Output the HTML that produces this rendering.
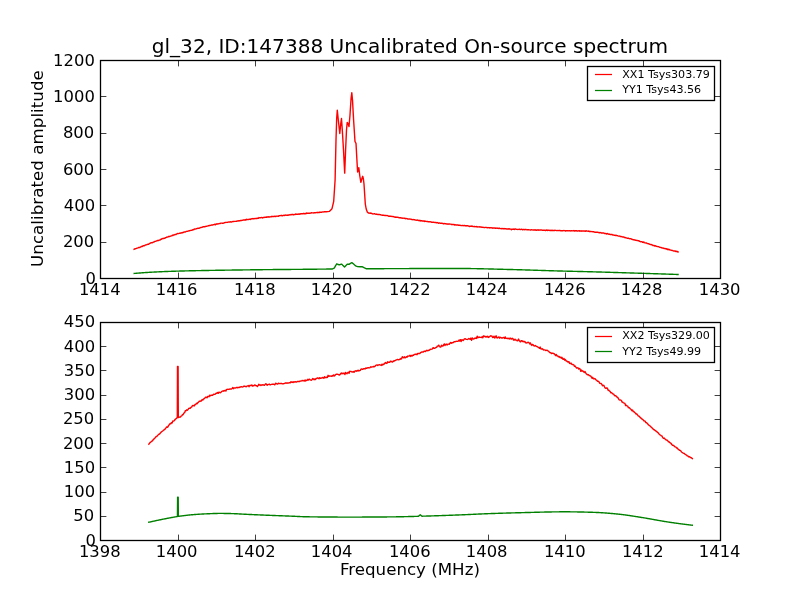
<!DOCTYPE html>
<html><head><meta charset="utf-8"><title>gl_32 spectrum</title>
<style>
html,body{margin:0;padding:0;background:#fff;}
body{width:800px;height:600px;overflow:hidden;}
svg{display:block;}
text{font-family:"DejaVu Sans","Liberation Sans",sans-serif;fill:#000;}
.tk text{font-size:16.4px;}
.lg{font-size:11.1px;}
.ttl{font-size:20.08px;}
.lab{font-size:16.67px;}
.ylab{font-size:16.67px;letter-spacing:0.045px;}
.ln{fill:none;stroke-width:1.4;stroke-linejoin:round;stroke-linecap:butt;}
.ax{fill:none;stroke:#000;stroke-width:1.3;}
.tick path{stroke:#000;stroke-width:0.75;fill:none;}
</style></head>
<body>
<svg width="800" height="600" viewBox="0 0 800 600">
<rect width="800" height="600" fill="#fff"/>
<text class="ttl" x="409.9" y="52.9" text-anchor="middle">gl_32, ID:147388 Uncalibrated On-source spectrum</text>
<g id="ax1">
<polyline class="ln" stroke="#f00" points="133.40,249.50 133.90,249.39 134.40,249.16 134.90,248.69 135.40,248.75 135.90,248.56 136.40,248.43 136.90,248.17 137.40,248.08 137.90,247.84 138.40,247.53 138.90,247.68 139.40,247.50 139.90,247.45 140.40,247.02 140.90,246.77 141.40,246.57 141.90,246.24 142.40,246.44 142.90,245.94 143.40,245.75 143.90,245.71 144.40,245.79 144.90,245.41 145.40,245.04 145.90,244.90 146.40,244.92 146.90,244.62 147.40,244.34 147.90,244.23 148.40,244.19 148.90,244.19 149.40,243.52 149.90,243.42 150.40,243.21 150.90,242.78 151.40,242.81 151.90,242.61 152.40,242.74 152.90,242.37 153.40,241.96 153.90,242.11 154.40,241.77 154.90,241.37 155.40,241.36 155.90,241.17 156.40,240.94 156.90,240.89 157.40,240.37 157.90,240.48 158.40,240.49 158.90,240.28 159.40,240.13 159.90,239.95 160.40,239.83 160.90,239.25 161.40,239.36 161.90,238.77 162.40,238.78 162.90,238.40 163.40,238.66 163.90,238.51 164.40,238.10 164.90,238.21 165.40,237.66 165.90,237.60 166.40,237.42 166.90,237.06 167.40,237.11 167.90,237.16 168.40,236.54 168.90,236.66 169.40,236.33 169.90,236.45 170.40,236.09 170.90,235.96 171.40,235.80 171.90,235.58 172.40,235.18 172.90,235.45 173.40,234.89 173.90,234.98 174.40,234.89 174.90,234.53 175.40,234.53 175.90,234.54 176.40,234.22 176.90,233.95 177.40,233.51 177.90,233.66 178.40,233.58 178.90,233.46 179.40,233.25 179.90,233.32 180.40,233.04 180.90,232.98 181.40,232.96 181.90,232.60 182.40,232.55 182.90,232.78 183.40,232.46 183.90,232.00 184.40,232.05 184.90,232.01 185.40,231.98 185.90,231.68 186.40,231.45 186.90,231.30 187.40,231.37 187.90,231.20 188.40,230.94 188.90,230.86 189.40,230.70 189.90,230.74 190.40,230.39 190.90,230.42 191.40,230.34 191.90,230.14 192.40,229.79 192.90,229.97 193.40,229.52 193.90,229.54 194.40,229.22 194.90,228.92 195.40,229.07 195.90,228.93 196.40,228.73 196.90,228.64 197.40,228.36 197.90,228.21 198.40,228.17 198.90,228.35 199.40,228.05 199.90,227.73 200.40,227.76 200.90,227.48 201.40,227.36 201.90,227.43 202.40,227.10 202.90,226.80 203.40,226.79 203.90,226.82 204.40,226.71 204.90,226.76 205.40,226.34 205.90,226.44 206.40,226.28 206.90,226.08 207.40,226.11 207.90,225.95 208.40,225.64 208.90,225.82 209.40,225.36 209.90,225.45 210.40,225.33 210.90,225.29 211.40,225.01 211.90,225.02 212.40,224.90 212.90,224.97 213.40,224.60 213.90,224.64 214.40,224.49 214.90,224.24 215.40,224.74 215.90,224.23 216.40,223.93 216.90,224.27 217.40,223.81 217.90,223.94 218.40,223.92 218.90,223.61 219.40,223.55 219.90,223.45 220.40,223.43 220.90,223.12 221.40,223.09 221.90,223.17 222.40,223.27 222.90,223.13 223.40,223.21 223.90,222.97 224.40,222.71 224.90,222.69 225.40,222.33 225.90,222.41 226.40,222.32 226.90,222.44 227.40,222.42 227.90,222.17 228.40,222.09 228.90,221.87 229.40,222.02 229.90,222.00 230.40,221.96 230.90,221.71 231.40,222.06 231.90,221.87 232.40,221.61 232.90,221.48 233.40,221.44 233.90,221.45 234.40,221.35 234.90,221.36 235.40,221.34 235.90,221.36 236.40,221.26 236.90,221.01 237.40,221.01 237.90,220.83 238.40,220.73 238.90,221.04 239.40,220.61 239.90,220.91 240.40,220.49 240.90,220.51 241.40,220.56 241.90,220.33 242.40,220.31 242.90,220.15 243.40,220.04 243.90,220.01 244.40,219.86 244.90,220.13 245.40,219.78 245.90,219.99 246.40,219.25 246.90,219.58 247.40,219.59 247.90,219.39 248.40,219.52 248.90,219.38 249.40,219.17 249.90,219.20 250.40,219.48 250.90,219.02 251.40,218.96 251.90,218.78 252.40,218.79 252.90,218.51 253.40,218.60 253.90,218.93 254.40,218.65 254.90,218.52 255.40,218.53 255.90,218.58 256.40,218.32 256.90,218.48 257.40,218.27 257.90,218.08 258.40,218.25 258.90,217.58 259.40,217.79 259.90,217.86 260.40,217.63 260.90,217.68 261.40,217.56 261.90,217.50 262.40,217.95 262.90,217.58 263.40,217.43 263.90,217.58 264.40,217.29 264.90,217.41 265.40,217.28 265.90,217.42 266.40,216.91 266.90,217.18 267.40,217.04 267.90,216.80 268.40,217.08 268.90,216.74 269.40,217.06 269.90,216.85 270.40,216.83 270.90,216.69 271.40,216.76 271.90,216.30 272.40,216.54 272.90,216.39 273.40,216.48 273.90,216.38 274.40,216.43 274.90,216.17 275.40,216.52 275.90,216.55 276.40,216.12 276.90,216.10 277.40,216.10 277.90,216.20 278.40,216.25 278.90,215.74 279.40,215.78 279.90,215.67 280.40,215.61 280.90,215.49 281.40,215.74 281.90,215.47 282.40,215.82 282.90,215.68 283.40,215.35 283.90,215.30 284.40,215.31 284.90,215.57 285.40,215.18 285.90,215.04 286.40,215.21 286.90,215.23 287.40,215.03 287.90,215.32 288.40,215.07 288.90,215.05 289.40,214.81 289.90,214.89 290.40,214.82 290.90,214.46 291.40,214.80 291.90,214.44 292.40,214.66 292.90,214.40 293.40,214.87 293.90,214.57 294.40,214.61 294.90,214.57 295.40,214.19 295.90,214.00 296.40,214.25 296.90,214.39 297.40,214.22 297.90,214.28 298.40,214.26 298.90,213.85 299.40,214.07 299.90,214.28 300.40,213.86 300.90,213.59 301.40,213.82 301.90,213.74 302.40,213.83 302.90,213.59 303.40,213.69 303.90,213.30 304.40,213.72 304.90,213.79 305.40,213.70 305.90,213.23 306.40,213.47 306.90,212.93 307.40,213.37 307.90,213.28 308.40,213.10 308.90,213.26 309.40,213.18 309.90,213.26 310.40,213.10 310.90,213.07 311.40,212.70 311.90,212.78 312.40,212.84 312.90,212.91 313.40,212.82 313.90,213.01 314.40,212.61 314.90,212.66 315.40,212.70 315.90,212.58 316.40,212.65 316.90,212.45 317.40,212.71 317.90,212.41 318.40,212.58 318.90,212.37 319.40,212.56 319.90,212.09 320.40,212.33 320.90,212.15 321.40,212.21 321.90,212.32 322.40,211.93 322.90,211.86 323.40,211.87 323.90,212.02 324.40,211.66 324.90,211.92 325.40,211.67 325.90,211.66 326.25,211.80 329.30,211.40 332.00,208.70 333.70,201.30 335.10,180.00 336.00,140.00 336.70,118.00 337.30,110.30 338.30,120.00 339.80,133.50 340.70,124.00 341.50,118.50 342.30,130.00 343.50,150.00 344.70,173.10 345.60,150.00 346.50,130.00 347.20,122.50 348.00,123.50 349.00,126.50 350.00,115.00 351.10,98.00 351.80,92.80 352.50,100.00 353.60,120.00 355.00,141.50 356.00,143.30 356.80,158.00 357.60,172.00 358.20,170.00 358.80,167.70 359.80,176.00 360.90,182.40 361.80,179.00 362.70,176.30 363.40,179.00 364.00,184.00 365.30,204.00 366.20,209.00 367.30,211.90 368.40,213.00 368.90,212.98 369.40,213.07 369.90,213.21 370.40,213.25 370.90,212.96 371.40,213.37 371.90,213.52 372.40,213.75 372.90,213.96 373.40,213.83 373.90,213.81 374.40,213.73 374.90,213.96 375.40,214.14 375.90,214.28 376.40,214.04 376.90,214.28 377.40,214.44 377.90,214.67 378.40,214.50 378.90,214.45 379.40,214.50 379.90,214.63 380.40,214.66 380.90,214.95 381.40,215.06 381.90,215.08 382.40,215.23 382.90,215.05 383.40,215.25 383.90,215.21 384.40,215.35 384.90,215.60 385.40,215.49 385.90,215.28 386.40,215.60 386.90,215.60 387.40,215.56 387.90,215.74 388.40,216.08 388.90,216.26 389.40,216.01 389.90,216.31 390.40,216.41 390.90,216.13 391.40,216.38 391.90,216.45 392.40,216.56 392.90,216.37 393.40,216.63 393.90,216.92 394.40,217.03 394.90,217.19 395.40,216.94 395.90,217.35 396.40,217.24 396.90,217.02 397.40,217.41 397.90,217.32 398.40,217.53 398.90,217.51 399.40,217.78 399.90,217.72 400.40,217.71 400.90,217.98 401.40,217.95 401.90,217.92 402.40,218.25 402.90,218.08 403.40,218.12 403.90,218.21 404.40,218.14 404.90,218.36 405.40,218.79 405.90,218.45 406.40,218.66 406.90,218.57 407.40,218.72 407.90,219.11 408.40,219.09 408.90,218.94 409.40,219.11 409.90,219.05 410.40,219.13 410.90,219.19 411.40,219.26 411.90,219.52 412.40,219.63 412.90,219.68 413.40,219.65 413.90,219.54 414.40,219.81 414.90,219.75 415.40,220.09 415.90,220.11 416.40,220.20 416.90,220.11 417.40,219.96 417.90,220.44 418.40,220.55 418.90,220.21 419.40,220.52 419.90,220.74 420.40,220.47 420.90,220.96 421.40,220.71 421.90,220.67 422.40,221.10 422.90,221.01 423.40,220.93 423.90,221.23 424.40,220.87 424.90,221.50 425.40,221.17 425.90,221.40 426.40,221.36 426.90,221.55 427.40,221.68 427.90,221.49 428.40,221.79 428.90,221.70 429.40,221.70 429.90,221.83 430.40,221.78 430.90,221.87 431.40,222.20 431.90,222.10 432.40,222.35 432.90,222.31 433.40,222.15 433.90,222.08 434.40,222.33 434.90,222.53 435.40,222.55 435.90,222.49 436.40,222.83 436.90,222.47 437.40,222.61 437.90,222.87 438.40,223.24 438.90,223.04 439.40,222.88 439.90,223.18 440.40,223.26 440.90,223.35 441.40,223.21 441.90,223.21 442.40,223.41 442.90,223.51 443.40,223.74 443.90,223.88 444.40,223.51 444.90,223.60 445.40,223.73 445.90,223.76 446.40,223.93 446.90,223.98 447.40,224.01 447.90,224.23 448.40,224.06 448.90,223.98 449.40,223.96 449.90,224.10 450.40,224.15 450.90,224.08 451.40,224.52 451.90,224.51 452.40,224.47 452.90,224.45 453.40,224.40 453.90,224.56 454.40,225.02 454.90,224.47 455.40,224.87 455.90,225.01 456.40,224.97 456.90,224.96 457.40,225.17 457.90,224.94 458.40,225.23 458.90,225.41 459.40,225.09 459.90,225.17 460.40,225.36 460.90,225.53 461.40,225.62 461.90,225.57 462.40,225.41 462.90,225.38 463.40,225.62 463.90,225.69 464.40,225.50 464.90,225.71 465.40,225.79 465.90,225.94 466.40,225.67 466.90,225.94 467.40,225.72 467.90,225.87 468.40,225.96 468.90,226.24 469.40,226.55 469.90,226.13 470.40,226.21 470.90,226.33 471.40,226.01 471.90,226.38 472.40,226.12 472.90,226.59 473.40,226.61 473.90,226.51 474.40,226.36 474.90,226.78 475.40,226.61 475.90,226.63 476.40,226.75 476.90,226.45 477.40,226.82 477.90,226.95 478.40,226.89 478.90,226.91 479.40,226.79 479.90,227.07 480.40,227.05 480.90,227.07 481.40,227.02 481.90,227.28 482.40,227.38 482.90,227.30 483.40,227.41 483.90,227.52 484.40,227.60 484.90,227.44 485.40,227.41 485.90,227.42 486.40,227.52 486.90,227.64 487.40,227.73 487.90,227.56 488.40,227.69 488.90,227.55 489.40,227.92 489.90,227.71 490.40,227.86 490.90,227.73 491.40,227.83 491.90,227.81 492.40,228.20 492.90,228.03 493.40,227.99 493.90,227.90 494.40,227.99 494.90,228.20 495.40,228.40 495.90,227.96 496.40,228.07 496.90,228.22 497.40,228.18 497.90,228.06 498.40,228.34 498.90,228.49 499.40,228.17 499.90,228.47 500.40,228.61 500.90,228.65 501.40,228.47 501.90,228.91 502.40,228.67 502.90,228.50 503.40,228.80 503.90,228.51 504.40,228.84 504.90,228.55 505.40,228.88 505.90,228.71 506.40,228.99 506.90,228.96 507.40,228.94 507.90,228.91 508.40,229.09 508.90,228.69 509.40,229.05 509.90,229.07 510.40,229.12 510.90,229.18 511.40,229.64 511.90,229.12 512.40,229.25 512.90,229.18 513.40,229.41 513.90,228.90 514.40,229.48 514.90,229.14 515.40,228.93 515.90,229.13 516.40,229.28 516.90,229.36 517.40,229.35 517.90,229.50 518.40,229.39 518.90,229.41 519.40,229.11 519.90,229.53 520.40,229.63 520.90,229.43 521.40,229.23 521.90,229.33 522.40,229.80 522.90,229.48 523.40,229.49 523.90,229.49 524.40,229.73 524.90,229.56 525.40,229.54 525.90,229.46 526.40,229.69 526.90,229.87 527.40,229.71 527.90,229.89 528.40,229.80 528.90,229.81 529.40,229.83 529.90,229.83 530.40,229.99 530.90,229.93 531.40,229.79 531.90,229.91 532.40,229.89 532.90,229.99 533.40,229.96 533.90,230.01 534.40,229.75 534.90,230.04 535.40,230.19 535.90,229.81 536.40,230.27 536.90,230.09 537.40,230.03 537.90,229.80 538.40,230.25 538.90,229.96 539.40,230.04 539.90,230.21 540.40,229.99 540.90,230.01 541.40,230.00 541.90,230.17 542.40,230.29 542.90,230.27 543.40,230.28 543.90,230.19 544.40,230.27 544.90,230.16 545.40,230.58 545.90,230.32 546.40,230.01 546.90,230.15 547.40,230.57 547.90,230.13 548.40,230.28 548.90,230.42 549.40,230.21 549.90,230.55 550.40,230.65 550.90,230.29 551.40,230.59 551.90,230.30 552.40,230.29 552.90,230.49 553.40,230.50 553.90,230.39 554.40,230.61 554.90,230.28 555.40,230.38 555.90,230.36 556.40,230.64 556.90,230.66 557.40,230.65 557.90,230.37 558.40,230.59 558.90,230.65 559.40,230.35 559.90,230.48 560.40,230.71 560.90,230.73 561.40,230.67 561.90,230.73 562.40,230.70 562.90,230.69 563.40,230.66 563.90,230.55 564.40,230.66 564.90,230.64 565.40,231.06 565.90,230.76 566.40,230.73 566.90,230.71 567.40,230.73 567.90,230.72 568.40,230.85 568.90,230.78 569.40,230.91 569.90,230.69 570.40,230.86 570.90,230.95 571.40,230.65 571.90,230.86 572.40,230.88 572.90,230.80 573.40,230.78 573.90,230.58 574.40,231.04 574.90,230.73 575.40,230.69 575.90,230.98 576.40,230.62 576.90,231.04 577.40,230.97 577.90,231.00 578.40,230.89 578.90,230.74 579.40,230.65 579.90,231.16 580.40,230.88 580.90,230.88 581.40,231.20 581.90,230.88 582.40,230.95 582.90,230.96 583.40,230.99 583.90,230.86 584.40,230.95 584.90,231.24 585.40,231.18 585.90,230.64 586.40,230.81 586.90,231.19 587.40,231.15 587.90,231.15 588.40,231.40 588.90,231.02 589.40,231.51 589.90,231.40 590.40,231.52 590.90,231.53 591.40,231.67 591.90,231.57 592.40,231.59 592.90,231.85 593.40,231.82 593.90,231.67 594.40,232.13 594.90,232.18 595.40,232.28 595.90,232.14 596.40,232.25 596.90,232.21 597.40,232.20 597.90,232.42 598.40,232.51 598.90,232.45 599.40,232.89 599.90,232.44 600.40,232.63 600.90,232.72 601.40,233.09 601.90,232.93 602.40,232.99 602.90,232.98 603.40,233.07 603.90,233.07 604.40,233.50 604.90,233.52 605.40,233.65 605.90,233.49 606.40,234.05 606.90,233.61 607.40,233.53 607.90,233.88 608.40,234.04 608.90,234.22 609.40,234.04 609.90,234.37 610.40,234.63 610.90,234.34 611.40,234.45 611.90,234.40 612.40,234.79 612.90,234.97 613.40,235.05 613.90,235.16 614.40,235.35 614.90,235.25 615.40,235.47 615.90,235.29 616.40,235.41 616.90,235.67 617.40,235.61 617.90,235.93 618.40,236.16 618.90,236.12 619.40,236.06 619.90,236.17 620.40,236.60 620.90,236.39 621.40,236.63 621.90,236.70 622.40,236.86 622.90,237.13 623.40,237.01 623.90,237.00 624.40,237.54 624.90,237.48 625.40,237.68 625.90,237.69 626.40,237.93 626.90,238.12 627.40,238.26 627.90,238.14 628.40,238.25 628.90,238.49 629.40,238.58 629.90,238.76 630.40,238.69 630.90,238.58 631.40,239.12 631.90,239.30 632.40,239.40 632.90,239.68 633.40,239.69 633.90,239.64 634.40,239.98 634.90,239.95 635.40,240.28 635.90,240.26 636.40,240.43 636.90,240.53 637.40,240.64 637.90,240.54 638.40,240.91 638.90,240.70 639.40,241.25 639.90,241.47 640.40,241.76 640.90,241.65 641.40,241.63 641.90,241.64 642.40,242.31 642.90,241.94 643.40,242.43 643.90,242.09 644.40,242.57 644.90,242.82 645.40,242.91 645.90,243.00 646.40,243.03 646.90,243.17 647.40,243.60 647.90,243.67 648.40,243.73 648.90,243.93 649.40,243.92 649.90,244.36 650.40,244.55 650.90,244.40 651.40,244.69 651.90,244.98 652.40,244.89 652.90,245.44 653.40,245.52 653.90,245.40 654.40,245.75 654.90,246.00 655.40,245.72 655.90,246.15 656.40,246.19 656.90,246.32 657.40,246.61 657.90,246.58 658.40,246.59 658.90,246.73 659.40,247.08 659.90,247.32 660.40,247.36 660.90,247.48 661.40,247.63 661.90,247.97 662.40,247.99 662.90,247.93 663.40,248.14 663.90,248.50 664.40,248.36 664.90,248.52 665.40,248.71 665.90,248.69 666.40,249.12 666.90,248.79 667.40,249.46 667.90,249.31 668.40,249.32 668.90,249.68 669.40,249.51 669.90,249.97 670.40,250.13 670.90,250.06 671.40,250.21 671.90,250.54 672.40,250.42 672.90,250.65 673.40,250.82 673.90,251.13 674.40,250.94 674.90,251.14 675.40,251.43 675.90,250.99 676.40,251.46 676.90,251.33 677.40,251.46 677.90,252.15 678.40,252.00 678.75,252.05"/>
<polyline class="ln" stroke="#008000" points="133.50,273.50 134.00,273.46 134.50,273.42 135.00,273.37 135.50,273.33 136.00,273.29 136.50,273.25 137.00,273.21 137.50,273.17 138.00,273.13 138.50,273.09 139.00,273.05 139.50,273.01 140.00,272.97 140.50,272.93 141.00,272.90 141.50,272.86 142.00,272.82 142.50,272.78 143.00,272.75 143.50,272.71 144.00,272.67 144.50,272.64 145.00,272.60 145.50,272.57 146.00,272.53 146.50,272.50 147.00,272.47 147.50,272.43 148.00,272.40 148.50,272.37 149.00,272.34 149.50,272.31 150.00,272.28 150.50,272.25 151.00,272.22 151.50,272.19 152.00,272.16 152.50,272.13 153.00,272.10 153.50,272.08 154.00,272.05 154.50,272.03 155.00,272.00 155.50,271.98 156.00,271.95 156.50,271.93 157.00,271.90 157.50,271.88 158.00,271.86 158.50,271.83 159.00,271.81 159.50,271.79 160.00,271.76 160.50,271.74 161.00,271.72 161.50,271.70 162.00,271.68 162.50,271.66 163.00,271.64 163.50,271.61 164.00,271.59 164.50,271.57 165.00,271.55 165.50,271.53 166.00,271.51 166.50,271.50 167.00,271.48 167.50,271.46 168.00,271.44 168.50,271.42 169.00,271.40 169.50,271.38 170.00,271.37 170.50,271.35 171.00,271.33 171.50,271.31 172.00,271.30 172.50,271.28 173.00,271.26 173.50,271.25 174.00,271.23 174.50,271.21 175.00,271.20 175.50,271.18 176.00,271.17 176.50,271.15 177.00,271.14 177.50,271.12 178.00,271.11 178.50,271.09 179.00,271.08 179.50,271.06 180.00,271.05 180.50,271.04 181.00,271.02 181.50,271.01 182.00,271.00 182.50,270.98 183.00,270.97 183.50,270.96 184.00,270.94 184.50,270.93 185.00,270.92 185.50,270.91 186.00,270.89 186.50,270.88 187.00,270.87 187.50,270.86 188.00,270.85 188.50,270.83 189.00,270.82 189.50,270.81 190.00,270.80 190.50,270.79 191.00,270.78 191.50,270.77 192.00,270.76 192.50,270.75 193.00,270.74 193.50,270.72 194.00,270.71 194.50,270.70 195.00,270.69 195.50,270.68 196.00,270.67 196.50,270.66 197.00,270.65 197.50,270.64 198.00,270.63 198.50,270.62 199.00,270.61 199.50,270.60 200.00,270.59 200.50,270.58 201.00,270.58 201.50,270.57 202.00,270.56 202.50,270.55 203.00,270.54 203.50,270.53 204.00,270.52 204.50,270.51 205.00,270.50 205.50,270.49 206.00,270.48 206.50,270.47 207.00,270.46 207.50,270.45 208.00,270.45 208.50,270.44 209.00,270.43 209.50,270.42 210.00,270.41 210.50,270.40 211.00,270.39 211.50,270.38 212.00,270.38 212.50,270.37 213.00,270.36 213.50,270.35 214.00,270.34 214.50,270.33 215.00,270.33 215.50,270.32 216.00,270.31 216.50,270.30 217.00,270.29 217.50,270.29 218.00,270.28 218.50,270.27 219.00,270.26 219.50,270.26 220.00,270.25 220.50,270.24 221.00,270.23 221.50,270.22 222.00,270.22 222.50,270.21 223.00,270.20 223.50,270.19 224.00,270.19 224.50,270.18 225.00,270.17 225.50,270.16 226.00,270.16 226.50,270.15 227.00,270.14 227.50,270.14 228.00,270.13 228.50,270.12 229.00,270.11 229.50,270.11 230.00,270.10 230.50,270.09 231.00,270.09 231.50,270.08 232.00,270.07 232.50,270.06 233.00,270.06 233.50,270.05 234.00,270.04 234.50,270.04 235.00,270.03 235.50,270.02 236.00,270.02 236.50,270.01 237.00,270.00 237.50,270.00 238.00,269.99 238.50,269.98 239.00,269.97 239.50,269.97 240.00,269.96 240.50,269.95 241.00,269.95 241.50,269.94 242.00,269.93 242.50,269.93 243.00,269.92 243.50,269.91 244.00,269.91 244.50,269.90 245.00,269.89 245.50,269.89 246.00,269.88 246.50,269.87 247.00,269.87 247.50,269.86 248.00,269.85 248.50,269.85 249.00,269.84 249.50,269.84 250.00,269.83 250.50,269.82 251.00,269.82 251.50,269.81 252.00,269.80 252.50,269.80 253.00,269.79 253.50,269.78 254.00,269.78 254.50,269.77 255.00,269.77 255.50,269.76 256.00,269.75 256.50,269.75 257.00,269.74 257.50,269.74 258.00,269.73 258.50,269.72 259.00,269.72 259.50,269.71 260.00,269.71 260.50,269.70 261.00,269.70 261.50,269.69 262.00,269.68 262.50,269.68 263.00,269.67 263.50,269.67 264.00,269.66 264.50,269.66 265.00,269.65 265.50,269.65 266.00,269.64 266.50,269.64 267.00,269.63 267.50,269.63 268.00,269.62 268.50,269.62 269.00,269.61 269.50,269.60 270.00,269.60 270.50,269.60 271.00,269.59 271.50,269.59 272.00,269.58 272.50,269.58 273.00,269.57 273.50,269.57 274.00,269.56 274.50,269.56 275.00,269.55 275.50,269.55 276.00,269.54 276.50,269.54 277.00,269.54 277.50,269.53 278.00,269.53 278.50,269.52 279.00,269.52 279.50,269.52 280.00,269.51 280.50,269.51 281.00,269.50 281.50,269.50 282.00,269.50 282.50,269.49 283.00,269.49 283.50,269.48 284.00,269.48 284.50,269.48 285.00,269.47 285.50,269.47 286.00,269.47 286.50,269.46 287.00,269.46 287.50,269.45 288.00,269.45 288.50,269.45 289.00,269.44 289.50,269.44 290.00,269.43 290.50,269.43 291.00,269.43 291.50,269.42 292.00,269.42 292.50,269.41 293.00,269.41 293.50,269.41 294.00,269.40 294.50,269.40 295.00,269.39 295.50,269.39 296.00,269.39 296.50,269.38 297.00,269.38 297.50,269.37 298.00,269.37 298.50,269.36 299.00,269.36 299.50,269.35 300.00,269.35 300.50,269.35 301.00,269.34 301.50,269.34 302.00,269.33 302.50,269.33 303.00,269.32 303.50,269.32 304.00,269.31 304.50,269.31 305.00,269.30 305.50,269.30 306.00,269.29 306.50,269.29 307.00,269.28 307.50,269.28 308.00,269.27 308.50,269.27 309.00,269.26 309.50,269.26 310.00,269.25 310.50,269.25 311.00,269.24 311.50,269.24 312.00,269.23 312.50,269.23 313.00,269.22 313.50,269.22 314.00,269.21 314.50,269.20 315.00,269.20 315.50,269.19 316.00,269.19 316.50,269.18 317.00,269.18 317.50,269.17 318.00,269.17 318.50,269.16 319.00,269.16 319.50,269.15 320.00,269.14 320.50,269.14 321.00,269.13 321.50,269.13 322.00,269.12 322.50,269.12 323.00,269.11 323.50,269.11 324.00,269.10 324.50,269.09 325.00,269.09 325.50,269.08 326.00,269.08 326.50,269.07 327.00,269.07 327.50,269.06 328.00,269.05 328.50,269.05 329.00,269.04 329.50,269.04 330.00,269.03 330.50,269.02 331.00,269.02 331.50,269.01 332.00,269.01 332.50,269.00 334.50,267.80 335.60,265.60 336.80,263.80 338.00,264.50 339.50,264.80 340.80,264.30 341.80,264.10 343.00,265.60 344.50,267.10 346.00,265.50 347.20,264.30 349.00,264.30 350.50,263.30 351.80,262.60 353.30,263.80 355.00,265.30 356.20,266.10 357.50,266.60 360.00,266.80 362.50,266.80 364.50,267.90 366.50,268.80 367.00,268.80 367.50,268.79 368.00,268.79 368.50,268.78 369.00,268.78 369.50,268.78 370.00,268.77 370.50,268.77 371.00,268.77 371.50,268.76 372.00,268.76 372.50,268.76 373.00,268.75 373.50,268.75 374.00,268.74 374.50,268.74 375.00,268.74 375.50,268.73 376.00,268.73 376.50,268.73 377.00,268.72 377.50,268.72 378.00,268.72 378.50,268.71 379.00,268.71 379.50,268.70 380.00,268.70 380.50,268.70 381.00,268.69 381.50,268.69 382.00,268.69 382.50,268.68 383.00,268.68 383.50,268.68 384.00,268.68 384.50,268.67 385.00,268.67 385.50,268.67 386.00,268.66 386.50,268.66 387.00,268.66 387.50,268.65 388.00,268.65 388.50,268.65 389.00,268.65 389.50,268.64 390.00,268.64 390.50,268.64 391.00,268.64 391.50,268.63 392.00,268.63 392.50,268.63 393.00,268.63 393.50,268.62 394.00,268.62 394.50,268.62 395.00,268.62 395.50,268.62 396.00,268.61 396.50,268.61 397.00,268.61 397.50,268.61 398.00,268.61 398.50,268.60 399.00,268.60 399.50,268.60 400.00,268.60 400.50,268.60 401.00,268.60 401.50,268.60 402.00,268.59 402.50,268.59 403.00,268.59 403.50,268.59 404.00,268.59 404.50,268.59 405.00,268.59 405.50,268.59 406.00,268.58 406.50,268.58 407.00,268.58 407.50,268.58 408.00,268.58 408.50,268.58 409.00,268.58 409.50,268.57 410.00,268.57 410.50,268.57 411.00,268.57 411.50,268.57 412.00,268.57 412.50,268.57 413.00,268.57 413.50,268.56 414.00,268.56 414.50,268.56 415.00,268.56 415.50,268.56 416.00,268.56 416.50,268.56 417.00,268.56 417.50,268.56 418.00,268.55 418.50,268.55 419.00,268.55 419.50,268.55 420.00,268.55 420.50,268.55 421.00,268.55 421.50,268.55 422.00,268.55 422.50,268.54 423.00,268.54 423.50,268.54 424.00,268.54 424.50,268.54 425.00,268.54 425.50,268.54 426.00,268.54 426.50,268.54 427.00,268.53 427.50,268.53 428.00,268.53 428.50,268.53 429.00,268.53 429.50,268.53 430.00,268.53 430.50,268.53 431.00,268.53 431.50,268.53 432.00,268.53 432.50,268.52 433.00,268.52 433.50,268.52 434.00,268.52 434.50,268.52 435.00,268.52 435.50,268.52 436.00,268.52 436.50,268.52 437.00,268.52 437.50,268.52 438.00,268.52 438.50,268.52 439.00,268.52 439.50,268.51 440.00,268.51 440.50,268.51 441.00,268.51 441.50,268.51 442.00,268.51 442.50,268.51 443.00,268.51 443.50,268.51 444.00,268.51 444.50,268.51 445.00,268.51 445.50,268.51 446.00,268.51 446.50,268.51 447.00,268.51 447.50,268.51 448.00,268.51 448.50,268.50 449.00,268.50 449.50,268.50 450.00,268.50 450.50,268.50 451.00,268.50 451.50,268.50 452.00,268.50 452.50,268.50 453.00,268.50 453.50,268.50 454.00,268.50 454.50,268.50 455.00,268.50 455.50,268.50 456.00,268.50 456.50,268.50 457.00,268.50 457.50,268.50 458.00,268.50 458.50,268.50 459.00,268.50 459.50,268.50 460.00,268.50 460.50,268.50 461.00,268.50 461.50,268.50 462.00,268.50 462.50,268.50 463.00,268.51 463.50,268.51 464.00,268.51 464.50,268.51 465.00,268.52 465.50,268.52 466.00,268.52 466.50,268.53 467.00,268.53 467.50,268.54 468.00,268.54 468.50,268.55 469.00,268.55 469.50,268.56 470.00,268.57 470.50,268.57 471.00,268.58 471.50,268.59 472.00,268.59 472.50,268.60 473.00,268.61 473.50,268.62 474.00,268.62 474.50,268.63 475.00,268.64 475.50,268.65 476.00,268.66 476.50,268.67 477.00,268.68 477.50,268.69 478.00,268.70 478.50,268.71 479.00,268.72 479.50,268.73 480.00,268.74 480.50,268.75 481.00,268.76 481.50,268.77 482.00,268.78 482.50,268.79 483.00,268.80 483.50,268.81 484.00,268.83 484.50,268.84 485.00,268.85 485.50,268.86 486.00,268.87 486.50,268.89 487.00,268.90 487.50,268.91 488.00,268.92 488.50,268.94 489.00,268.95 489.50,268.96 490.00,268.98 490.50,268.99 491.00,269.00 491.50,269.01 492.00,269.03 492.50,269.04 493.00,269.05 493.50,269.07 494.00,269.08 494.50,269.09 495.00,269.11 495.50,269.12 496.00,269.13 496.50,269.15 497.00,269.16 497.50,269.18 498.00,269.19 498.50,269.20 499.00,269.22 499.50,269.23 500.00,269.24 500.50,269.26 501.00,269.27 501.50,269.28 502.00,269.30 502.50,269.31 503.00,269.32 503.50,269.34 504.00,269.35 504.50,269.36 505.00,269.37 505.50,269.39 506.00,269.40 506.50,269.41 507.00,269.43 507.50,269.44 508.00,269.45 508.50,269.46 509.00,269.48 509.50,269.49 510.00,269.50 510.50,269.51 511.00,269.52 511.50,269.54 512.00,269.55 512.50,269.56 513.00,269.57 513.50,269.59 514.00,269.60 514.50,269.61 515.00,269.63 515.50,269.64 516.00,269.65 516.50,269.67 517.00,269.68 517.50,269.70 518.00,269.71 518.50,269.72 519.00,269.74 519.50,269.75 520.00,269.77 520.50,269.78 521.00,269.80 521.50,269.81 522.00,269.82 522.50,269.84 523.00,269.85 523.50,269.87 524.00,269.88 524.50,269.90 525.00,269.92 525.50,269.93 526.00,269.95 526.50,269.96 527.00,269.98 527.50,269.99 528.00,270.01 528.50,270.02 529.00,270.04 529.50,270.06 530.00,270.07 530.50,270.09 531.00,270.10 531.50,270.12 532.00,270.13 532.50,270.15 533.00,270.17 533.50,270.18 534.00,270.20 534.50,270.21 535.00,270.23 535.50,270.25 536.00,270.26 536.50,270.28 537.00,270.30 537.50,270.31 538.00,270.33 538.50,270.34 539.00,270.36 539.50,270.38 540.00,270.39 540.50,270.41 541.00,270.42 541.50,270.44 542.00,270.46 542.50,270.47 543.00,270.49 543.50,270.50 544.00,270.52 544.50,270.54 545.00,270.55 545.50,270.57 546.00,270.58 546.50,270.60 547.00,270.62 547.50,270.63 548.00,270.65 548.50,270.66 549.00,270.68 549.50,270.69 550.00,270.71 550.50,270.72 551.00,270.74 551.50,270.75 552.00,270.77 552.50,270.79 553.00,270.80 553.50,270.82 554.00,270.83 554.50,270.84 555.00,270.86 555.50,270.87 556.00,270.89 556.50,270.90 557.00,270.92 557.50,270.93 558.00,270.94 558.50,270.96 559.00,270.97 559.50,270.99 560.00,271.00 560.50,271.01 561.00,271.03 561.50,271.04 562.00,271.05 562.50,271.07 563.00,271.08 563.50,271.09 564.00,271.11 564.50,271.12 565.00,271.13 565.50,271.14 566.00,271.16 566.50,271.17 567.00,271.18 567.50,271.19 568.00,271.21 568.50,271.22 569.00,271.23 569.50,271.24 570.00,271.25 570.50,271.27 571.00,271.28 571.50,271.29 572.00,271.30 572.50,271.32 573.00,271.33 573.50,271.34 574.00,271.35 574.50,271.36 575.00,271.38 575.50,271.39 576.00,271.40 576.50,271.41 577.00,271.42 577.50,271.43 578.00,271.45 578.50,271.46 579.00,271.47 579.50,271.48 580.00,271.50 580.50,271.51 581.00,271.52 581.50,271.53 582.00,271.54 582.50,271.56 583.00,271.57 583.50,271.58 584.00,271.59 584.50,271.61 585.00,271.62 585.50,271.63 586.00,271.64 586.50,271.66 587.00,271.67 587.50,271.68 588.00,271.70 588.50,271.71 589.00,271.72 589.50,271.74 590.00,271.75 590.50,271.76 591.00,271.78 591.50,271.79 592.00,271.80 592.50,271.82 593.00,271.83 593.50,271.85 594.00,271.86 594.50,271.87 595.00,271.89 595.50,271.90 596.00,271.92 596.50,271.93 597.00,271.94 597.50,271.96 598.00,271.97 598.50,271.99 599.00,272.00 599.50,272.02 600.00,272.03 600.50,272.04 601.00,272.06 601.50,272.07 602.00,272.09 602.50,272.10 603.00,272.12 603.50,272.13 604.00,272.15 604.50,272.16 605.00,272.17 605.50,272.19 606.00,272.20 606.50,272.22 607.00,272.23 607.50,272.25 608.00,272.26 608.50,272.28 609.00,272.29 609.50,272.31 610.00,272.32 610.50,272.34 611.00,272.35 611.50,272.37 612.00,272.38 612.50,272.40 613.00,272.41 613.50,272.43 614.00,272.44 614.50,272.46 615.00,272.47 615.50,272.49 616.00,272.51 616.50,272.52 617.00,272.54 617.50,272.55 618.00,272.57 618.50,272.58 619.00,272.60 619.50,272.61 620.00,272.63 620.50,272.64 621.00,272.66 621.50,272.67 622.00,272.69 622.50,272.70 623.00,272.72 623.50,272.74 624.00,272.75 624.50,272.77 625.00,272.78 625.50,272.80 626.00,272.81 626.50,272.83 627.00,272.84 627.50,272.86 628.00,272.88 628.50,272.89 629.00,272.91 629.50,272.92 630.00,272.94 630.50,272.95 631.00,272.97 631.50,272.98 632.00,273.00 632.50,273.02 633.00,273.03 633.50,273.05 634.00,273.06 634.50,273.08 635.00,273.09 635.50,273.11 636.00,273.13 636.50,273.14 637.00,273.16 637.50,273.17 638.00,273.19 638.50,273.20 639.00,273.22 639.50,273.23 640.00,273.25 640.50,273.27 641.00,273.28 641.50,273.30 642.00,273.31 642.50,273.33 643.00,273.34 643.50,273.36 644.00,273.38 644.50,273.39 645.00,273.41 645.50,273.42 646.00,273.44 646.50,273.45 647.00,273.47 647.50,273.49 648.00,273.50 648.50,273.52 649.00,273.53 649.50,273.55 650.00,273.56 650.50,273.58 651.00,273.60 651.50,273.61 652.00,273.63 652.50,273.64 653.00,273.66 653.50,273.68 654.00,273.69 654.50,273.71 655.00,273.72 655.50,273.74 656.00,273.76 656.50,273.77 657.00,273.79 657.50,273.80 658.00,273.82 658.50,273.84 659.00,273.85 659.50,273.87 660.00,273.88 660.50,273.90 661.00,273.92 661.50,273.93 662.00,273.95 662.50,273.97 663.00,273.98 663.50,274.00 664.00,274.01 664.50,274.03 665.00,274.05 665.50,274.06 666.00,274.08 666.50,274.10 667.00,274.11 667.50,274.13 668.00,274.15 668.50,274.16 669.00,274.18 669.50,274.19 670.00,274.21 670.50,274.23 671.00,274.24 671.50,274.26 672.00,274.28 672.50,274.29 673.00,274.31 673.50,274.33 674.00,274.34 674.50,274.36 675.00,274.38 675.50,274.39 676.00,274.41 676.50,274.43 677.00,274.44 677.50,274.46 678.00,274.48 678.50,274.49 678.75,274.50"/>
<g class="tick"><path d="M100.5 278.5v-5.90 M100.5 60.5v5.90 M178.5 278.5v-5.90 M178.5 60.5v5.90 M255.5 278.5v-5.90 M255.5 60.5v5.90 M333.5 278.5v-5.90 M333.5 60.5v5.90 M410.5 278.5v-5.90 M410.5 60.5v5.90 M488.5 278.5v-5.90 M488.5 60.5v5.90 M565.5 278.5v-5.90 M565.5 60.5v5.90 M643.5 278.5v-5.90 M643.5 60.5v5.90 M720.5 278.5v-5.90 M720.5 60.5v5.90"/><path d="M100.5 278.5h5.90 M720.5 278.5h-5.90 M100.5 242.5h5.90 M720.5 242.5h-5.90 M100.5 205.5h5.90 M720.5 205.5h-5.90 M100.5 169.5h5.90 M720.5 169.5h-5.90 M100.5 133.5h5.90 M720.5 133.5h-5.90 M100.5 96.5h5.90 M720.5 96.5h-5.90 M100.5 60.5h5.90 M720.5 60.5h-5.90"/></g>
<rect class="ax" x="100.5" y="60.5" width="620.0" height="218.0"/>
<g class="tk"><text x="78.90" y="294.95">1414</text><text x="155.80" y="294.95">1416</text><text x="233.90" y="294.95">1418</text><text x="310.80" y="294.95">1420</text><text x="388.90" y="294.95">1422</text><text x="465.80" y="294.95">1424</text><text x="543.90" y="294.95">1426</text><text x="620.80" y="294.95">1428</text><text x="698.80" y="294.95">1430</text><text x="94.84" y="65.95" text-anchor="end">1200</text><text x="94.84" y="101.95" text-anchor="end">1000</text><text x="94.19" y="137.95" text-anchor="end">800</text><text x="94.19" y="174.95" text-anchor="end">600</text><text x="95.09" y="210.95" text-anchor="end">400</text><text x="94.19" y="246.95" text-anchor="end">200</text><text x="95.84" y="283.95" text-anchor="end">0</text></g>
<rect x="587.5" y="66.5" width="127.0" height="34.0" fill="#fff" stroke="#000" stroke-width="1.3"/><path d="M595 74.5H612" stroke="#f00" stroke-width="1.25"/><path d="M595 90.5H612" stroke="#008000" stroke-width="1.25"/><text class="lg" x="622.2" y="77.90">XX1 Tsys303.79</text><text class="lg" x="622.2" y="93.00">YY1 Tsys43.56</text>
<text class="ylab" transform="translate(43,168.55) rotate(-90)" text-anchor="middle">Uncalibrated amplitude</text>
</g>
<g id="ax2">
<polyline class="ln" stroke="#f00" points="148.30,444.60 149.00,444.04 149.70,443.07 150.40,442.34 151.10,441.77 151.80,441.14 152.50,440.83 153.20,439.67 153.90,439.15 154.60,438.29 155.30,437.73 156.00,436.65 156.70,436.66 157.40,435.54 158.10,435.04 158.80,434.30 159.50,434.00 160.20,433.21 160.90,432.41 161.60,431.82 162.30,431.23 163.00,430.73 163.70,430.03 164.40,429.64 165.10,429.13 165.80,428.20 166.50,426.99 167.20,427.32 167.90,426.83 168.60,425.42 169.30,424.78 170.00,423.63 170.70,423.90 171.40,422.70 172.10,422.99 172.80,420.96 173.50,421.16 174.20,420.72 174.90,419.74 175.60,418.97 176.30,418.69 177.00,417.79 177.30,417.70 177.30,417.70 177.50,366.50 178.10,366.50 178.30,417.60 179.00,417.21 179.70,417.06 180.40,417.06 181.10,416.18 181.80,415.76 182.50,414.73 183.20,414.52 183.90,412.94 184.60,412.90 185.30,410.70 186.00,410.71 186.70,409.83 187.40,410.20 188.10,409.40 188.80,408.33 189.50,408.10 190.20,408.32 190.90,407.35 191.60,407.12 192.30,405.90 193.00,405.44 193.70,405.74 194.40,405.91 195.10,404.38 195.80,404.34 196.50,403.30 197.20,403.67 197.90,402.57 198.60,402.14 199.30,401.14 200.00,401.25 200.70,401.02 201.40,401.03 202.10,399.60 202.80,399.99 203.50,399.05 204.20,398.65 204.90,397.98 205.60,397.29 206.30,397.11 207.00,397.86 207.70,396.42 208.40,396.40 209.10,396.70 209.80,395.12 210.50,395.85 211.20,395.18 211.90,395.19 212.60,395.19 213.30,394.52 214.00,394.25 214.70,394.37 215.40,394.08 216.10,393.29 216.80,393.26 217.50,392.55 218.20,393.38 218.90,392.12 219.60,392.44 220.30,392.83 221.00,392.20 221.70,391.50 222.40,391.05 223.10,390.82 223.80,391.18 224.50,390.68 225.20,390.28 225.90,391.10 226.60,389.45 227.30,389.39 228.00,389.25 228.70,389.34 229.40,389.24 230.10,388.86 230.80,389.16 231.50,388.96 232.20,388.50 232.90,387.50 233.60,388.74 234.30,387.90 235.00,387.91 235.70,388.00 236.40,387.42 237.10,387.48 237.80,387.71 238.50,387.41 239.20,387.57 239.90,386.95 240.60,387.08 241.30,386.61 242.00,386.82 242.70,386.94 243.40,386.60 244.10,385.99 244.80,386.40 245.50,386.44 246.20,386.76 246.90,386.17 247.60,385.92 248.30,385.52 249.00,386.78 249.70,385.46 250.40,385.32 251.10,385.66 251.80,384.89 252.50,386.06 253.20,385.62 253.90,385.69 254.60,385.01 255.30,385.16 256.00,385.69 256.70,385.65 257.40,386.43 258.10,385.64 258.80,384.32 259.50,385.11 260.20,384.87 260.90,385.45 261.60,384.89 262.30,385.10 263.00,384.70 263.70,385.06 264.40,385.38 265.10,384.45 265.80,383.81 266.50,384.20 267.20,385.27 267.90,384.66 268.60,384.40 269.30,384.08 270.00,384.91 270.70,384.55 271.40,384.34 272.10,384.11 272.80,384.24 273.50,384.13 274.20,384.47 274.90,384.72 275.60,383.29 276.30,383.45 277.00,383.98 277.70,383.99 278.40,383.23 279.10,383.57 279.80,383.59 280.50,383.50 281.20,383.42 281.90,383.51 282.60,383.85 283.30,383.71 284.00,383.56 284.70,383.34 285.40,382.83 286.10,382.85 286.80,383.27 287.50,382.94 288.20,383.15 288.90,382.83 289.60,382.65 290.30,382.73 291.00,381.78 291.70,382.29 292.40,382.02 293.10,382.55 293.80,381.80 294.50,382.10 295.20,381.71 295.90,382.01 296.60,382.02 297.30,381.52 298.00,381.55 298.70,381.49 299.40,381.65 300.10,381.06 300.80,381.12 301.50,380.81 302.20,380.48 302.90,380.87 303.60,380.87 304.30,380.22 305.00,381.16 305.70,380.03 306.40,380.58 307.10,380.31 307.80,379.28 308.50,379.91 309.20,379.12 309.90,379.66 310.60,379.89 311.30,380.29 312.00,379.71 312.70,378.58 313.40,378.98 314.10,379.69 314.80,378.99 315.50,379.58 316.20,378.36 316.90,378.32 317.60,377.85 318.30,378.16 319.00,378.77 319.70,377.68 320.40,378.35 321.10,378.07 321.80,378.09 322.50,377.51 323.20,377.51 323.90,378.34 324.60,376.70 325.30,377.48 326.00,377.69 326.70,377.10 327.40,377.51 328.10,375.30 328.80,376.37 329.50,375.86 330.20,376.07 330.90,376.08 331.60,376.21 332.30,375.48 333.00,376.13 333.70,374.89 334.40,375.90 335.10,375.22 335.80,374.40 336.50,374.26 337.20,374.11 337.90,374.34 338.60,374.70 339.30,375.11 340.00,374.73 340.70,373.62 341.40,373.04 342.10,373.81 342.80,373.15 343.50,373.58 344.20,373.20 344.90,374.54 345.60,372.43 346.30,373.21 347.00,373.77 347.70,372.57 348.40,372.25 349.10,373.23 349.80,371.32 350.50,371.35 351.20,371.42 351.90,372.01 352.60,372.02 353.30,371.44 354.00,372.36 354.70,371.08 355.40,371.01 356.10,370.71 356.80,371.26 357.50,370.52 358.20,370.17 358.90,370.97 359.60,370.62 360.30,370.32 361.00,369.08 361.70,369.00 362.40,369.22 363.10,369.03 363.80,368.78 364.50,368.70 365.20,368.94 365.90,367.98 366.60,368.40 367.30,367.91 368.00,367.69 368.70,367.61 369.40,367.92 370.10,367.52 370.80,366.83 371.50,367.19 372.20,366.91 372.90,366.87 373.60,366.36 374.30,366.78 375.00,366.30 375.70,365.38 376.40,365.13 377.10,364.88 377.80,365.56 378.50,364.84 379.20,364.81 379.90,364.76 380.60,365.19 381.30,365.46 382.00,364.15 382.70,364.97 383.40,364.07 384.10,364.20 384.80,363.27 385.50,362.60 386.20,363.24 386.90,363.44 387.60,361.84 388.30,362.37 389.00,362.30 389.70,362.29 390.40,361.25 391.10,361.31 391.80,361.84 392.50,362.07 393.20,361.02 393.90,361.25 394.60,360.65 395.30,360.57 396.00,359.96 396.70,359.84 397.40,359.46 398.10,359.60 398.80,359.89 399.50,359.24 400.20,359.27 400.90,358.42 401.60,358.90 402.30,356.76 403.00,357.43 403.70,357.77 404.40,356.83 405.10,357.83 405.80,357.45 406.50,356.68 407.20,356.99 407.90,355.98 408.60,356.08 409.30,356.14 410.00,355.31 410.70,356.45 411.40,355.38 412.10,356.02 412.80,355.21 413.50,355.23 414.20,354.39 414.90,354.48 415.60,354.19 416.30,354.30 417.00,354.66 417.70,353.43 418.40,353.40 419.10,353.44 419.80,353.46 420.50,352.72 421.20,352.34 421.90,351.99 422.60,352.06 423.30,351.94 424.00,351.22 424.70,351.18 425.40,351.50 426.10,350.85 426.80,350.33 427.50,350.77 428.20,350.54 428.90,350.26 429.60,350.05 430.30,349.26 431.00,349.34 431.70,349.17 432.40,348.84 433.10,347.61 433.80,348.30 434.50,348.26 435.20,348.11 435.90,347.46 436.60,347.40 437.30,346.20 438.00,346.14 438.70,345.13 439.40,346.36 440.10,347.13 440.80,346.98 441.50,345.22 442.20,345.95 442.90,346.06 443.60,345.00 444.30,343.89 445.00,345.49 445.70,344.31 446.40,344.07 447.10,344.99 447.80,344.11 448.50,344.09 449.20,344.29 449.90,343.14 450.60,342.48 451.30,343.24 452.00,342.62 452.70,342.83 453.40,342.45 454.10,341.63 454.80,341.88 455.50,341.51 456.20,341.38 456.90,341.31 457.60,341.35 458.30,341.10 459.00,340.11 459.70,340.99 460.40,339.69 461.10,341.53 461.80,339.73 462.50,339.95 463.20,340.57 463.90,339.57 464.60,338.83 465.30,338.60 466.00,339.41 466.70,339.35 467.40,339.46 468.10,339.03 468.80,338.50 469.50,338.92 470.20,339.35 470.90,338.01 471.60,340.33 472.30,338.02 473.00,338.85 473.70,339.11 474.40,338.47 475.10,338.05 475.80,338.19 476.50,338.45 477.20,336.15 477.90,337.80 478.60,337.25 479.30,337.02 480.00,337.40 480.70,337.37 481.40,337.48 482.10,336.82 482.80,337.73 483.50,335.87 484.20,336.44 484.90,336.24 485.60,336.93 486.30,336.54 487.00,337.07 487.70,336.30 488.40,337.44 489.10,337.12 489.80,336.42 490.50,335.77 491.20,336.08 491.90,335.91 492.60,337.51 493.30,337.29 494.00,336.21 494.70,338.03 495.40,336.87 496.10,335.83 496.80,337.75 497.50,337.95 498.20,337.30 498.90,336.88 499.60,338.16 500.30,337.28 501.00,337.65 501.70,338.01 502.40,338.00 503.10,337.66 503.80,337.40 504.50,338.47 505.20,336.88 505.90,338.36 506.60,338.39 507.30,338.59 508.00,338.17 508.70,338.57 509.40,338.96 510.10,338.04 510.80,338.75 511.50,339.06 512.20,338.28 512.90,338.60 513.60,340.14 514.30,339.99 515.00,339.16 515.70,340.13 516.40,340.11 517.10,340.82 517.80,340.84 518.50,339.05 519.20,340.39 519.90,341.49 520.60,341.81 521.30,340.76 522.00,340.61 522.70,341.62 523.40,341.32 524.10,341.87 524.80,341.44 525.50,342.70 526.20,342.81 526.90,342.96 527.60,342.34 528.30,342.25 529.00,342.71 529.70,343.91 530.40,342.93 531.10,344.52 531.80,345.39 532.50,344.37 533.20,344.89 533.90,345.80 534.60,346.05 535.30,345.52 536.00,346.06 536.70,346.51 537.40,346.61 538.10,347.36 538.80,347.53 539.50,348.35 540.20,347.05 540.90,348.88 541.60,348.98 542.30,348.78 543.00,349.37 543.70,349.96 544.40,349.91 545.10,349.92 545.80,350.51 546.50,350.30 547.20,350.29 547.90,350.83 548.60,351.20 549.30,352.01 550.00,352.64 550.70,352.68 551.40,353.63 552.10,353.16 552.80,353.21 553.50,353.50 554.20,353.75 554.90,354.40 555.60,355.61 556.30,354.51 557.00,355.89 557.70,355.96 558.40,356.76 559.10,356.47 559.80,357.44 560.50,357.20 561.20,358.14 561.90,357.23 562.60,358.84 563.30,359.35 564.00,358.58 564.70,360.19 565.40,359.61 566.10,361.06 566.80,360.97 567.50,361.72 568.20,361.98 568.90,361.63 569.60,363.39 570.30,363.66 571.00,363.01 571.70,364.22 572.40,364.62 573.10,364.53 573.80,364.81 574.50,366.39 575.20,366.05 575.90,367.14 576.60,368.08 577.30,367.88 578.00,367.70 578.70,369.06 579.40,368.42 580.10,369.11 580.80,371.38 581.50,370.10 582.20,371.10 582.90,370.91 583.60,371.80 584.30,372.40 585.00,371.54 585.70,372.91 586.40,373.97 587.10,374.51 587.80,374.72 588.50,374.58 589.20,375.64 589.90,375.70 590.60,376.03 591.30,376.84 592.00,378.32 592.70,377.36 593.40,378.70 594.10,378.83 594.80,378.55 595.50,379.29 596.20,380.12 596.90,380.49 597.60,381.33 598.30,381.30 599.00,381.82 599.70,383.23 600.40,383.33 601.10,383.52 601.80,384.44 602.50,385.78 603.20,385.31 603.90,385.50 604.60,387.09 605.30,388.10 606.00,388.39 606.70,387.90 607.40,388.20 608.10,390.19 608.80,390.21 609.50,391.11 610.20,391.44 610.90,392.83 611.60,392.80 612.30,393.27 613.00,394.07 613.70,394.15 614.40,395.31 615.10,395.81 615.80,395.62 616.50,396.60 617.20,397.16 617.90,397.63 618.60,398.97 619.30,399.86 620.00,400.14 620.70,400.04 621.40,400.52 622.10,402.09 622.80,402.26 623.50,402.93 624.20,403.07 624.90,403.39 625.60,405.56 626.30,405.11 627.00,405.86 627.70,406.10 628.40,407.68 629.10,407.59 629.80,408.26 630.50,408.94 631.20,409.53 631.90,410.65 632.60,410.11 633.30,411.59 634.00,411.76 634.70,412.46 635.40,413.00 636.10,413.98 636.80,414.01 637.50,414.89 638.20,415.88 638.90,416.12 639.60,416.77 640.30,417.68 641.00,418.20 641.70,418.67 642.40,419.42 643.10,419.73 643.80,420.92 644.50,420.89 645.20,421.34 645.90,422.61 646.60,422.67 647.30,423.40 648.00,424.25 648.70,425.16 649.40,425.41 650.10,426.04 650.80,426.66 651.50,427.52 652.20,427.87 652.90,428.71 653.60,429.66 654.30,429.79 655.00,430.36 655.70,430.80 656.40,431.45 657.10,431.91 657.80,432.55 658.50,433.30 659.20,434.16 659.90,434.79 660.60,435.11 661.30,435.90 662.00,436.02 662.70,437.55 663.40,438.23 664.10,438.07 664.80,438.81 665.50,439.27 666.20,440.02 666.90,440.19 667.60,440.51 668.30,441.70 669.00,441.75 669.70,442.69 670.40,442.90 671.10,443.49 671.80,444.50 672.50,445.21 673.20,445.30 673.90,445.77 674.60,446.50 675.30,446.82 676.00,447.07 676.70,448.05 677.40,448.04 678.10,449.25 678.80,449.56 679.50,450.27 680.20,450.39 680.90,451.09 681.60,451.93 682.30,452.63 683.00,453.00 683.70,453.37 684.40,453.49 685.10,454.35 685.80,454.71 686.50,455.05 687.20,455.87 687.90,455.83 688.60,456.85 689.30,456.72 690.00,457.13 690.70,457.67 691.40,457.80 692.10,458.38 692.80,458.89 693.00,459.00"/>
<polyline class="ln" stroke="#008000" points="148.10,522.40 148.60,522.29 149.10,522.17 149.60,522.06 150.10,521.95 150.60,521.83 151.10,521.72 151.60,521.61 152.10,521.50 152.60,521.39 153.10,521.28 153.60,521.17 154.10,521.06 154.60,520.95 155.10,520.84 155.60,520.74 156.10,520.63 156.60,520.52 157.10,520.42 157.60,520.31 158.10,520.21 158.60,520.10 159.10,520.00 159.60,519.89 160.10,519.79 160.60,519.69 161.10,519.58 161.60,519.48 162.10,519.38 162.60,519.28 163.10,519.18 163.60,519.08 164.10,518.98 164.60,518.88 165.10,518.78 165.60,518.69 166.10,518.59 166.60,518.49 167.10,518.39 167.60,518.30 168.10,518.20 168.60,518.11 169.10,518.01 169.60,517.92 170.10,517.82 170.60,517.73 171.10,517.63 171.60,517.54 172.10,517.45 172.60,517.36 173.10,517.27 173.60,517.18 174.10,517.09 174.60,517.00 175.10,516.91 175.60,516.82 176.10,516.73 176.60,516.64 177.10,516.55 177.40,516.50 177.45,516.50 177.60,497.20 178.20,497.20 178.35,516.40 178.85,516.33 179.35,516.26 179.85,516.18 180.35,516.11 180.85,516.04 181.35,515.98 181.85,515.91 182.35,515.84 182.85,515.77 183.35,515.71 183.85,515.65 184.35,515.58 184.85,515.52 185.35,515.46 185.85,515.40 186.35,515.34 186.85,515.28 187.35,515.23 187.85,515.17 188.35,515.12 188.85,515.06 189.35,515.01 189.85,514.96 190.35,514.91 190.85,514.86 191.35,514.81 191.85,514.76 192.35,514.72 192.85,514.68 193.35,514.63 193.85,514.59 194.35,514.55 194.85,514.51 195.35,514.47 195.85,514.44 196.35,514.40 196.85,514.36 197.35,514.33 197.85,514.30 198.35,514.26 198.85,514.23 199.35,514.20 199.85,514.17 200.35,514.14 200.85,514.11 201.35,514.08 201.85,514.05 202.35,514.02 202.85,513.99 203.35,513.97 203.85,513.94 204.35,513.92 204.85,513.89 205.35,513.87 205.85,513.85 206.35,513.83 206.85,513.81 207.35,513.79 207.85,513.77 208.35,513.74 208.85,513.72 209.35,513.70 209.85,513.68 210.35,513.66 210.85,513.64 211.35,513.62 211.85,513.60 212.35,513.58 212.85,513.56 213.35,513.54 213.85,513.52 214.35,513.50 214.85,513.49 215.35,513.47 215.85,513.46 216.35,513.45 216.85,513.44 217.35,513.43 217.85,513.42 218.35,513.41 218.85,513.41 219.35,513.40 219.85,513.40 220.35,513.40 220.85,513.40 221.35,513.40 221.85,513.41 222.35,513.41 222.85,513.42 223.35,513.42 223.85,513.43 224.35,513.43 224.85,513.44 225.35,513.45 225.85,513.46 226.35,513.47 226.85,513.48 227.35,513.49 227.85,513.50 228.35,513.51 228.85,513.52 229.35,513.54 229.85,513.55 230.35,513.56 230.85,513.57 231.35,513.58 231.85,513.60 232.35,513.61 232.85,513.62 233.35,513.64 233.85,513.66 234.35,513.68 234.85,513.70 235.35,513.72 235.85,513.75 236.35,513.77 236.85,513.80 237.35,513.82 237.85,513.85 238.35,513.88 238.85,513.91 239.35,513.94 239.85,513.97 240.35,514.00 240.85,514.03 241.35,514.05 241.85,514.08 242.35,514.11 242.85,514.14 243.35,514.17 243.85,514.19 244.35,514.22 244.85,514.24 245.35,514.27 245.85,514.29 246.35,514.31 246.85,514.34 247.35,514.36 247.85,514.38 248.35,514.41 248.85,514.43 249.35,514.45 249.85,514.48 250.35,514.50 250.85,514.52 251.35,514.54 251.85,514.57 252.35,514.59 252.85,514.61 253.35,514.64 253.85,514.66 254.35,514.68 254.85,514.70 255.35,514.72 255.85,514.75 256.35,514.77 256.85,514.79 257.35,514.81 257.85,514.84 258.35,514.86 258.85,514.88 259.35,514.90 259.85,514.92 260.35,514.94 260.85,514.97 261.35,514.99 261.85,515.01 262.35,515.03 262.85,515.05 263.35,515.07 263.85,515.09 264.35,515.12 264.85,515.14 265.35,515.16 265.85,515.18 266.35,515.20 266.85,515.22 267.35,515.24 267.85,515.26 268.35,515.28 268.85,515.30 269.35,515.32 269.85,515.34 270.35,515.36 270.85,515.38 271.35,515.40 271.85,515.42 272.35,515.44 272.85,515.46 273.35,515.48 273.85,515.50 274.35,515.52 274.85,515.54 275.35,515.56 275.85,515.58 276.35,515.60 276.85,515.62 277.35,515.63 277.85,515.65 278.35,515.67 278.85,515.69 279.35,515.71 279.85,515.73 280.35,515.74 280.85,515.76 281.35,515.78 281.85,515.80 282.35,515.82 282.85,515.83 283.35,515.85 283.85,515.87 284.35,515.89 284.85,515.91 285.35,515.93 285.85,515.94 286.35,515.96 286.85,515.98 287.35,516.00 287.85,516.02 288.35,516.04 288.85,516.06 289.35,516.08 289.85,516.09 290.35,516.11 290.85,516.13 291.35,516.15 291.85,516.18 292.35,516.20 292.85,516.22 293.35,516.24 293.85,516.27 294.35,516.29 294.85,516.32 295.35,516.34 295.85,516.36 296.35,516.39 296.85,516.41 297.35,516.44 297.85,516.46 298.35,516.49 298.85,516.51 299.35,516.53 299.85,516.56 300.35,516.58 300.85,516.60 301.35,516.62 301.85,516.64 302.35,516.66 302.85,516.68 303.35,516.70 303.85,516.71 304.35,516.73 304.85,516.74 305.35,516.76 305.85,516.77 306.35,516.78 306.85,516.79 307.35,516.80 307.85,516.80 308.35,516.81 308.85,516.82 309.35,516.82 309.85,516.83 310.35,516.84 310.85,516.84 311.35,516.85 311.85,516.86 312.35,516.86 312.85,516.87 313.35,516.87 313.85,516.88 314.35,516.89 314.85,516.89 315.35,516.90 315.85,516.90 316.35,516.91 316.85,516.92 317.35,516.92 317.85,516.93 318.35,516.93 318.85,516.94 319.35,516.94 319.85,516.95 320.35,516.95 320.85,516.96 321.35,516.96 321.85,516.97 322.35,516.97 322.85,516.98 323.35,516.98 323.85,516.98 324.35,516.99 324.85,516.99 325.35,517.00 325.85,517.00 326.35,517.01 326.85,517.01 327.35,517.01 327.85,517.02 328.35,517.02 328.85,517.03 329.35,517.03 329.85,517.03 330.35,517.04 330.85,517.04 331.35,517.04 331.85,517.05 332.35,517.05 332.85,517.05 333.35,517.05 333.85,517.06 334.35,517.06 334.85,517.06 335.35,517.07 335.85,517.07 336.35,517.07 336.85,517.07 337.35,517.07 337.85,517.08 338.35,517.08 338.85,517.08 339.35,517.08 339.85,517.08 340.35,517.09 340.85,517.09 341.35,517.09 341.85,517.09 342.35,517.09 342.85,517.09 343.35,517.09 343.85,517.10 344.35,517.10 344.85,517.10 345.35,517.10 345.85,517.10 346.35,517.10 346.85,517.10 347.35,517.10 347.85,517.10 348.35,517.10 348.85,517.10 349.35,517.10 349.85,517.10 350.35,517.10 350.85,517.10 351.35,517.10 351.85,517.10 352.35,517.10 352.85,517.10 353.35,517.10 353.85,517.10 354.35,517.10 354.85,517.09 355.35,517.09 355.85,517.09 356.35,517.09 356.85,517.09 357.35,517.09 357.85,517.09 358.35,517.09 358.85,517.09 359.35,517.08 359.85,517.08 360.35,517.08 360.85,517.08 361.35,517.08 361.85,517.08 362.35,517.07 362.85,517.07 363.35,517.07 363.85,517.07 364.35,517.07 364.85,517.06 365.35,517.06 365.85,517.06 366.35,517.06 366.85,517.05 367.35,517.05 367.85,517.05 368.35,517.05 368.85,517.04 369.35,517.04 369.85,517.04 370.35,517.04 370.85,517.03 371.35,517.03 371.85,517.03 372.35,517.03 372.85,517.02 373.35,517.02 373.85,517.02 374.35,517.01 374.85,517.01 375.35,517.01 375.85,517.00 376.35,517.00 376.85,517.00 377.35,516.99 377.85,516.99 378.35,516.99 378.85,516.98 379.35,516.98 379.85,516.98 380.35,516.97 380.85,516.97 381.35,516.97 381.85,516.96 382.35,516.96 382.85,516.96 383.35,516.95 383.85,516.95 384.35,516.94 384.85,516.94 385.35,516.94 385.85,516.93 386.35,516.93 386.85,516.93 387.35,516.92 387.85,516.92 388.35,516.91 388.85,516.91 389.35,516.91 389.85,516.90 390.35,516.90 390.85,516.89 391.35,516.89 391.85,516.88 392.35,516.88 392.85,516.87 393.35,516.87 393.85,516.86 394.35,516.85 394.85,516.85 395.35,516.84 395.85,516.83 396.35,516.82 396.85,516.81 397.35,516.81 397.85,516.80 398.35,516.79 398.85,516.78 399.35,516.77 399.85,516.76 400.35,516.75 400.85,516.74 401.35,516.73 401.85,516.72 402.35,516.71 402.85,516.70 403.35,516.69 403.85,516.68 404.35,516.67 404.85,516.66 405.35,516.64 405.85,516.63 406.35,516.62 406.85,516.61 407.35,516.60 407.85,516.58 408.35,516.57 408.85,516.56 409.35,516.55 409.85,516.53 410.35,516.52 410.85,516.51 411.35,516.49 411.85,516.48 412.35,516.47 412.85,516.45 413.35,516.44 413.85,516.43 414.35,516.41 414.85,516.40 415.35,516.39 415.85,516.37 416.35,516.36 416.85,516.35 417.35,516.33 417.85,516.32 418.35,516.30 418.50,516.30 420.25,514.70 422.00,516.20 422.50,516.19 423.00,516.17 423.50,516.16 424.00,516.14 424.50,516.13 425.00,516.11 425.50,516.10 426.00,516.08 426.50,516.07 427.00,516.05 427.50,516.04 428.00,516.02 428.50,516.00 429.00,515.99 429.50,515.97 430.00,515.96 430.50,515.94 431.00,515.93 431.50,515.91 432.00,515.89 432.50,515.88 433.00,515.86 433.50,515.85 434.00,515.83 434.50,515.81 435.00,515.80 435.50,515.78 436.00,515.76 436.50,515.75 437.00,515.73 437.50,515.71 438.00,515.70 438.50,515.68 439.00,515.66 439.50,515.65 440.00,515.63 440.50,515.61 441.00,515.60 441.50,515.58 442.00,515.56 442.50,515.54 443.00,515.53 443.50,515.51 444.00,515.49 444.50,515.47 445.00,515.46 445.50,515.44 446.00,515.42 446.50,515.40 447.00,515.39 447.50,515.37 448.00,515.35 448.50,515.33 449.00,515.31 449.50,515.29 450.00,515.28 450.50,515.26 451.00,515.24 451.50,515.22 452.00,515.20 452.50,515.18 453.00,515.17 453.50,515.15 454.00,515.13 454.50,515.11 455.00,515.09 455.50,515.07 456.00,515.05 456.50,515.04 457.00,515.02 457.50,515.00 458.00,514.98 458.50,514.96 459.00,514.94 459.50,514.92 460.00,514.90 460.50,514.88 461.00,514.86 461.50,514.84 462.00,514.82 462.50,514.80 463.00,514.78 463.50,514.76 464.00,514.74 464.50,514.71 465.00,514.69 465.50,514.67 466.00,514.65 466.50,514.63 467.00,514.60 467.50,514.58 468.00,514.56 468.50,514.54 469.00,514.51 469.50,514.49 470.00,514.47 470.50,514.44 471.00,514.42 471.50,514.40 472.00,514.37 472.50,514.35 473.00,514.33 473.50,514.30 474.00,514.28 474.50,514.26 475.00,514.24 475.50,514.21 476.00,514.19 476.50,514.17 477.00,514.14 477.50,514.12 478.00,514.10 478.50,514.07 479.00,514.05 479.50,514.03 480.00,514.01 480.50,513.98 481.00,513.96 481.50,513.94 482.00,513.92 482.50,513.90 483.00,513.88 483.50,513.85 484.00,513.83 484.50,513.81 485.00,513.79 485.50,513.77 486.00,513.75 486.50,513.73 487.00,513.71 487.50,513.69 488.00,513.67 488.50,513.65 489.00,513.64 489.50,513.62 490.00,513.60 490.50,513.58 491.00,513.56 491.50,513.55 492.00,513.53 492.50,513.51 493.00,513.50 493.50,513.48 494.00,513.46 494.50,513.44 495.00,513.43 495.50,513.41 496.00,513.39 496.50,513.38 497.00,513.36 497.50,513.34 498.00,513.33 498.50,513.31 499.00,513.30 499.50,513.28 500.00,513.26 500.50,513.25 501.00,513.23 501.50,513.22 502.00,513.20 502.50,513.18 503.00,513.17 503.50,513.15 504.00,513.14 504.50,513.12 505.00,513.11 505.50,513.09 506.00,513.08 506.50,513.06 507.00,513.05 507.50,513.03 508.00,513.02 508.50,513.01 509.00,512.99 509.50,512.98 510.00,512.96 510.50,512.95 511.00,512.93 511.50,512.92 512.00,512.91 512.50,512.89 513.00,512.88 513.50,512.87 514.00,512.85 514.50,512.84 515.00,512.83 515.50,512.81 516.00,512.80 516.50,512.79 517.00,512.77 517.50,512.76 518.00,512.75 518.50,512.74 519.00,512.72 519.50,512.71 520.00,512.70 520.50,512.69 521.00,512.68 521.50,512.66 522.00,512.65 522.50,512.64 523.00,512.62 523.50,512.61 524.00,512.60 524.50,512.59 525.00,512.57 525.50,512.56 526.00,512.55 526.50,512.53 527.00,512.52 527.50,512.51 528.00,512.49 528.50,512.48 529.00,512.47 529.50,512.45 530.00,512.44 530.50,512.43 531.00,512.41 531.50,512.40 532.00,512.39 532.50,512.37 533.00,512.36 533.50,512.34 534.00,512.33 534.50,512.32 535.00,512.30 535.50,512.29 536.00,512.28 536.50,512.26 537.00,512.25 537.50,512.24 538.00,512.23 538.50,512.21 539.00,512.20 539.50,512.19 540.00,512.17 540.50,512.16 541.00,512.15 541.50,512.14 542.00,512.13 542.50,512.11 543.00,512.10 543.50,512.09 544.00,512.08 544.50,512.07 545.00,512.06 545.50,512.04 546.00,512.03 546.50,512.02 547.00,512.01 547.50,512.00 548.00,511.99 548.50,511.98 549.00,511.97 549.50,511.96 550.00,511.95 550.50,511.94 551.00,511.93 551.50,511.93 552.00,511.92 552.50,511.91 553.00,511.90 553.50,511.89 554.00,511.89 554.50,511.88 555.00,511.87 555.50,511.86 556.00,511.86 556.50,511.85 557.00,511.85 557.50,511.84 558.00,511.84 558.50,511.83 559.00,511.83 559.50,511.82 560.00,511.82 560.50,511.82 561.00,511.81 561.50,511.81 562.00,511.81 562.50,511.80 563.00,511.80 563.50,511.80 564.00,511.80 564.50,511.80 565.00,511.80 565.50,511.80 566.00,511.80 566.50,511.80 567.00,511.80 567.50,511.81 568.00,511.81 568.50,511.81 569.00,511.81 569.50,511.82 570.00,511.82 570.50,511.83 571.00,511.83 571.50,511.84 572.00,511.84 572.50,511.85 573.00,511.85 573.50,511.86 574.00,511.87 574.50,511.88 575.00,511.88 575.50,511.89 576.00,511.90 576.50,511.91 577.00,511.92 577.50,511.93 578.00,511.94 578.50,511.95 579.00,511.96 579.50,511.97 580.00,511.98 580.50,511.99 581.00,512.00 581.50,512.01 582.00,512.02 582.50,512.04 583.00,512.05 583.50,512.06 584.00,512.07 584.50,512.09 585.00,512.10 585.50,512.11 586.00,512.13 586.50,512.14 587.00,512.16 587.50,512.17 588.00,512.18 588.50,512.20 589.00,512.21 589.50,512.23 590.00,512.24 590.50,512.26 591.00,512.27 591.50,512.29 592.00,512.30 592.50,512.32 593.00,512.34 593.50,512.35 594.00,512.37 594.50,512.38 595.00,512.40 595.50,512.42 596.00,512.43 596.50,512.45 597.00,512.47 597.50,512.50 598.00,512.52 598.50,512.54 599.00,512.57 599.50,512.59 600.00,512.62 600.50,512.65 601.00,512.68 601.50,512.71 602.00,512.74 602.50,512.77 603.00,512.81 603.50,512.84 604.00,512.87 604.50,512.91 605.00,512.95 605.50,512.98 606.00,513.02 606.50,513.06 607.00,513.10 607.50,513.14 608.00,513.18 608.50,513.22 609.00,513.26 609.50,513.31 610.00,513.35 610.50,513.39 611.00,513.44 611.50,513.48 612.00,513.53 612.50,513.57 613.00,513.62 613.50,513.67 614.00,513.71 614.50,513.76 615.00,513.81 615.50,513.86 616.00,513.91 616.50,513.95 617.00,514.00 617.50,514.05 618.00,514.10 618.50,514.15 619.00,514.20 619.50,514.25 620.00,514.30 620.50,514.36 621.00,514.41 621.50,514.47 622.00,514.53 622.50,514.59 623.00,514.65 623.50,514.71 624.00,514.78 624.50,514.84 625.00,514.91 625.50,514.98 626.00,515.05 626.50,515.12 627.00,515.19 627.50,515.26 628.00,515.33 628.50,515.41 629.00,515.48 629.50,515.55 630.00,515.63 630.50,515.71 631.00,515.78 631.50,515.86 632.00,515.94 632.50,516.02 633.00,516.10 633.50,516.17 634.00,516.25 634.50,516.33 635.00,516.41 635.50,516.49 636.00,516.57 636.50,516.65 637.00,516.73 637.50,516.81 638.00,516.89 638.50,516.97 639.00,517.04 639.50,517.12 640.00,517.20 640.50,517.28 641.00,517.36 641.50,517.44 642.00,517.52 642.50,517.60 643.00,517.68 643.50,517.76 644.00,517.84 644.50,517.93 645.00,518.01 645.50,518.10 646.00,518.18 646.50,518.27 647.00,518.36 647.50,518.44 648.00,518.53 648.50,518.62 649.00,518.71 649.50,518.79 650.00,518.88 650.50,518.97 651.00,519.06 651.50,519.15 652.00,519.24 652.50,519.33 653.00,519.42 653.50,519.51 654.00,519.60 654.50,519.69 655.00,519.78 655.50,519.87 656.00,519.96 656.50,520.05 657.00,520.14 657.50,520.23 658.00,520.32 658.50,520.40 659.00,520.49 659.50,520.58 660.00,520.67 660.50,520.76 661.00,520.84 661.50,520.93 662.00,521.02 662.50,521.10 663.00,521.19 663.50,521.27 664.00,521.35 664.50,521.44 665.00,521.52 665.50,521.60 666.00,521.68 666.50,521.76 667.00,521.84 667.50,521.92 668.00,522.00 668.50,522.08 669.00,522.15 669.50,522.23 670.00,522.30 670.50,522.37 671.00,522.45 671.50,522.52 672.00,522.59 672.50,522.66 673.00,522.73 673.50,522.81 674.00,522.88 674.50,522.95 675.00,523.02 675.50,523.09 676.00,523.16 676.50,523.23 677.00,523.29 677.50,523.36 678.00,523.43 678.50,523.50 679.00,523.57 679.50,523.63 680.00,523.70 680.50,523.76 681.00,523.83 681.50,523.90 682.00,523.96 682.50,524.03 683.00,524.09 683.50,524.15 684.00,524.22 684.50,524.28 685.00,524.34 685.50,524.41 686.00,524.47 686.50,524.53 687.00,524.59 687.50,524.65 688.00,524.71 688.50,524.77 689.00,524.83 689.50,524.89 690.00,524.95 690.50,525.01 691.00,525.07 691.50,525.13 692.00,525.19 692.50,525.24 693.00,525.30"/>
<g class="tick"><path d="M100.5 540.5v-5.90 M100.5 322.5v5.90 M178.5 540.5v-5.90 M178.5 322.5v5.90 M255.5 540.5v-5.90 M255.5 322.5v5.90 M333.5 540.5v-5.90 M333.5 322.5v5.90 M410.5 540.5v-5.90 M410.5 322.5v5.90 M488.5 540.5v-5.90 M488.5 322.5v5.90 M565.5 540.5v-5.90 M565.5 322.5v5.90 M643.5 540.5v-5.90 M643.5 322.5v5.90 M720.5 540.5v-5.90 M720.5 322.5v5.90"/><path d="M100.5 540.5h5.90 M720.5 540.5h-5.90 M100.5 516.5h5.90 M720.5 516.5h-5.90 M100.5 492.5h5.90 M720.5 492.5h-5.90 M100.5 467.5h5.90 M720.5 467.5h-5.90 M100.5 443.5h5.90 M720.5 443.5h-5.90 M100.5 419.5h5.90 M720.5 419.5h-5.90 M100.5 395.5h5.90 M720.5 395.5h-5.90 M100.5 370.5h5.90 M720.5 370.5h-5.90 M100.5 346.5h5.90 M720.5 346.5h-5.90 M100.5 322.5h5.90 M720.5 322.5h-5.90"/></g>
<rect class="ax" x="100.5" y="322.5" width="620.0" height="218.0"/>
<g class="tk"><text x="78.90" y="556.95">1398</text><text x="155.80" y="556.95">1400</text><text x="233.90" y="556.95">1402</text><text x="310.80" y="556.95">1404</text><text x="388.90" y="556.95">1406</text><text x="465.80" y="556.95">1408</text><text x="543.90" y="556.95">1410</text><text x="621.90" y="556.95">1412</text><text x="698.80" y="556.95">1414</text><text x="95.09" y="326.95" text-anchor="end">450</text><text x="95.09" y="351.95" text-anchor="end">400</text><text x="95.09" y="375.95" text-anchor="end">350</text><text x="95.09" y="399.95" text-anchor="end">300</text><text x="94.19" y="423.95" text-anchor="end">250</text><text x="94.19" y="448.95" text-anchor="end">200</text><text x="95.09" y="472.95" text-anchor="end">150</text><text x="95.09" y="496.95" text-anchor="end">100</text><text x="94.19" y="520.95" text-anchor="end">50</text><text x="95.84" y="545.95" text-anchor="end">0</text></g>
<rect x="587.5" y="327.5" width="127.0" height="35.0" fill="#fff" stroke="#000" stroke-width="1.3"/><path d="M595 336.5H612" stroke="#f00" stroke-width="1.25"/><path d="M595 351.5H612" stroke="#008000" stroke-width="1.25"/><text class="lg" x="622.2" y="338.90">XX2 Tsys329.00</text><text class="lg" x="622.2" y="354.60">YY2 Tsys49.99</text>
<text class="lab" x="409.9" y="575.2" text-anchor="middle">Frequency (MHz)</text>
</g>
</svg>
</body></html>
